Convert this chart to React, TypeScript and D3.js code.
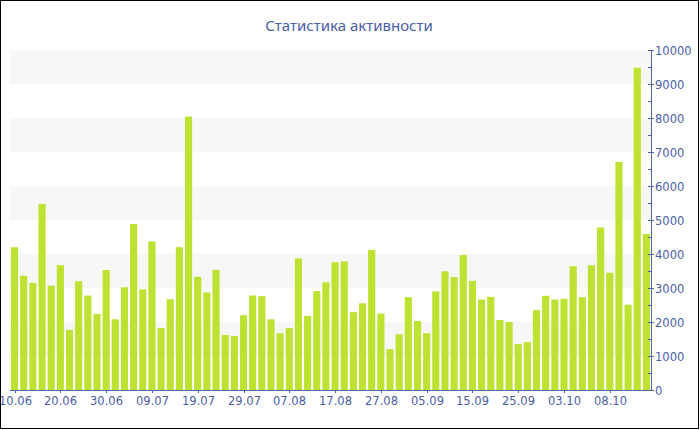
import React from "react";
import * as d3 from "d3";

const categories: string[] = [
  "10.06", "12.06", "14.06", "16.06", "18.06",
  "20.06", "22.06", "24.06", "26.06", "28.06",
  "30.06", "02.07", "04.07", "06.07", "07.07",
  "09.07", "11.07", "13.07", "15.07", "17.07",
  "19.07", "21.07", "23.07", "25.07", "27.07",
  "29.07", "31.07", "02.08", "04.08", "05.08",
  "07.08", "09.08", "11.08", "13.08", "15.08",
  "17.08", "19.08", "21.08", "23.08", "25.08",
  "27.08", "29.08", "31.08", "02.09", "03.09",
  "05.09", "07.09", "09.09", "11.09", "13.09",
  "15.09", "17.09", "19.09", "21.09", "23.09",
  "25.09", "27.09", "29.09", "01.10", "02.10",
  "03.10", "04.10", "05.10", "06.10", "07.10",
  "08.10", "09.10", "10.10", "11.10", "12.10",
];

const activity: number[] = [
  4200, 3360, 3150, 5470, 3070, 3670, 1770, 3200, 2780, 2240,
  3530, 2080, 3020, 4880, 2960, 4370, 1820, 2670, 4200, 8040,
  3330, 2870, 3530, 1620, 1590, 2200, 2780, 2760, 2080, 1670,
  1820, 3870, 2180, 2910, 3170, 3760, 3780, 2290, 2550, 4120,
  2250, 1200, 1640, 2730, 2030, 1670, 2900, 3490, 3320, 3970,
  3210, 2660, 2740, 2060, 2000, 1350, 1410, 2350, 2770, 2660,
  2680, 3640, 2730, 3670, 4780, 3450, 6710, 2510, 9480, 4590,
];

const xTickLabels: string[] = [
  "10.06", "20.06", "30.06", "09.07", "19.07", "29.07", "07.08",
  "17.08", "27.08", "05.09", "15.09", "25.09", "03.10", "08.10",
];

const yTicks: number[] = [0, 1000, 2000, 3000, 4000, 5000, 6000, 7000, 8000, 9000, 10000];
const yMinorTicks: number[] = [500, 1500, 2500, 3500, 4500, 5500, 6500, 7500, 8500, 9500];
const title = "Статистика активности";

const W = 700;
const H = 430;
const left = 10;
const right = 651;
const top = 50;
const bottom = 390;
const axisColor = "#5064a8";
const textColor = "#4a5ea8";
const font = "DejaVu Sans, Verdana, sans-serif";

export default function App() {
  const x = d3
    .scaleBand<string>()
    .domain(categories)
    .range([left, right])
    .paddingInner(0.22)
    .paddingOuter(0.11);
  const y = d3.scaleLinear().domain([0, 10000]).range([bottom, top]);

  const bands = d3.range(0, 10000, 2000).map((v) => [v + 1000, v + 2000]);

  return (
    <svg
      width={W}
      height={H}
      style={{ position: "absolute", left: 0, top: 0, background: "#fff" }}
      fontFamily={font}
    >
      <rect x={0} y={0} width={W} height={H} fill="#fff" />
      {bands.map(([a, b]) => (
        <rect
          key={a}
          x={left}
          y={y(b)}
          width={right - left}
          height={y(a) - y(b)}
          fill="#f7f7f7"
        />
      ))}
      {activity.map((v, i) => (
        <rect
          key={categories[i]}
          x={x(categories[i])}
          y={y(v)}
          width={x.bandwidth()}
          height={y(0) - y(v)}
          fill="#bde232"
        />
      ))}
      {/* x axis */}
      <line x1={left} x2={right} y1={bottom + 0.5} y2={bottom + 0.5} stroke={axisColor} strokeWidth={1} />
      {xTickLabels.map((t) => {
        const cx = Math.round((x(t) as number) + x.bandwidth() / 2) + 0.5;
        return (
          <g key={t}>
            <line x1={cx} x2={cx} y1={bottom} y2={bottom + 3} stroke={axisColor} />
            <text x={cx} y={bottom + 15} textAnchor="middle" fontSize={11.5} fill={textColor}>
              {t}
            </text>
          </g>
        );
      })}
      {/* y axis */}
      <line x1={right + 0.5} x2={right + 0.5} y1={top} y2={bottom + 1} stroke={axisColor} />
      {yMinorTicks.map((v) => (
        <line key={v} x1={right - 3} x2={right} y1={Math.round(y(v)) + 0.5} y2={Math.round(y(v)) + 0.5} stroke={axisColor} />
      ))}
      {yTicks.map((v) => (
        <g key={v}>
          <line x1={right - 3} x2={right + 3} y1={Math.round(y(v)) + 0.5} y2={Math.round(y(v)) + 0.5} stroke={axisColor} />
          <text x={right + 4} y={y(v) + 4.5} fontSize={11.5} fill={textColor}>
            {v}
          </text>
        </g>
      ))}
      <text x={349} y={31} textAnchor="middle" fontSize={15} fontFamily="Noto Sans, sans-serif" fill={textColor}>
        {title}
      </text>
      <rect x={0.5} y={0.5} width={698} height={428} fill="none" stroke="#000" />
    </svg>
  );
}
